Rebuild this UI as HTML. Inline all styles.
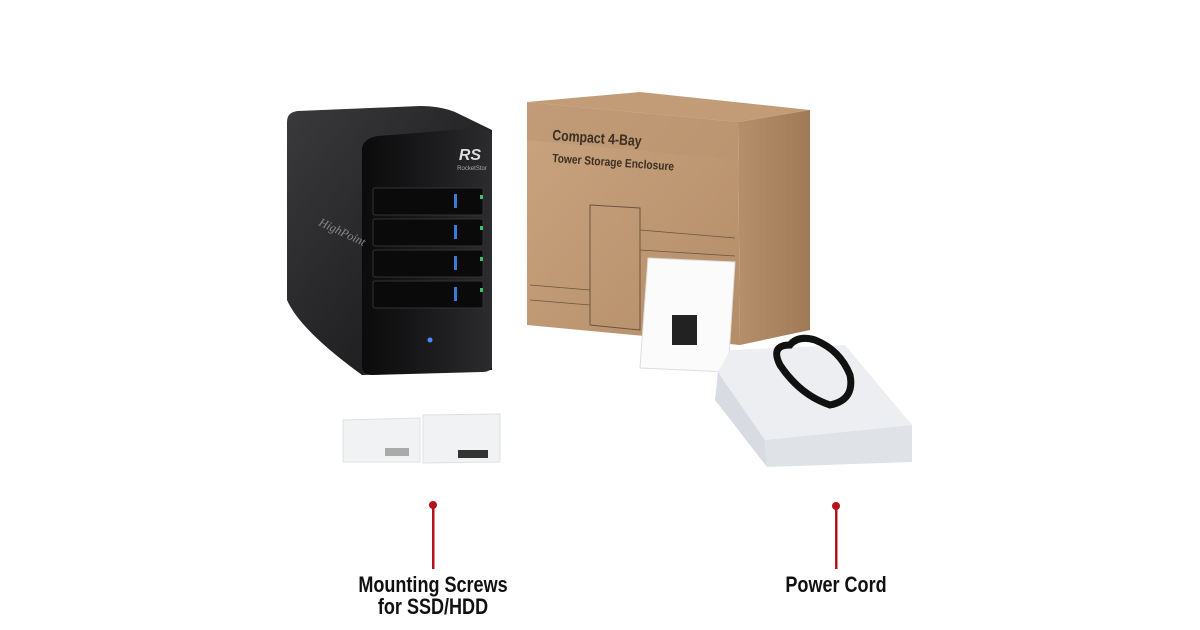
<!DOCTYPE html>
<html><head><meta charset="utf-8"><style>
html,body{margin:0;padding:0;background:#fff;width:1200px;height:630px;overflow:hidden}
svg{display:block}
</style></head><body>
<svg width="1200" height="630" viewBox="0 0 1200 630" xmlns="http://www.w3.org/2000/svg">
<defs>
<linearGradient id="side" x1="0" y1="0" x2="1" y2="1"><stop offset="0" stop-color="#3a3a3c"/><stop offset="0.5" stop-color="#262628"/><stop offset="1" stop-color="#151516"/></linearGradient>
<linearGradient id="front" x1="0" y1="0" x2="1" y2="0"><stop offset="0" stop-color="#0b0b0c"/><stop offset="0.6" stop-color="#1d1d1f"/><stop offset="1" stop-color="#2c2c2e"/></linearGradient>
<linearGradient id="cb" x1="0" y1="0" x2="1" y2="1"><stop offset="0" stop-color="#c9a47f"/><stop offset="1" stop-color="#b48d68"/></linearGradient>
<linearGradient id="cbs" x1="0" y1="0" x2="1" y2="0"><stop offset="0" stop-color="#b58f6b"/><stop offset="1" stop-color="#a07a56"/></linearGradient>
</defs>
<!-- enclosure -->
<path d="M287,122 Q287,112 298,111 L420,106 Q440,106 455,112 L492,130 L492,370 L362,375 Q300,330 287,300 Z" fill="url(#side)"/>
<path d="M362,148 Q364,138 378,136 L480,128 Q492,128 492,140 L492,365 Q492,372 482,372 L372,375 Q362,375 362,365 Z" fill="url(#front)"/>
<text x="470" y="160" font-family="Liberation Sans" font-weight="bold" font-style="italic" font-size="16" fill="#ddd" text-anchor="middle">RS</text>
<text x="472" y="170" font-family="Liberation Sans" font-size="6" fill="#aaa" text-anchor="middle">RocketStor</text>
<text x="318" y="225" font-family="Liberation Serif" font-style="italic" font-size="12" fill="#888" transform="rotate(25 318 225)">HighPoint</text>
<g fill="#0a0a0a" stroke="#333" stroke-width="1">
<rect x="373" y="188" width="110" height="27" rx="2"/>
<rect x="373" y="219" width="110" height="27" rx="2"/>
<rect x="373" y="250" width="110" height="27" rx="2"/>
<rect x="373" y="281" width="110" height="27" rx="2"/>
</g>
<g fill="#3a7bd5"><rect x="454" y="194" width="3" height="14"/><rect x="454" y="225" width="3" height="14"/><rect x="454" y="256" width="3" height="14"/><rect x="454" y="287" width="3" height="14"/></g>
<g fill="#3fbf6a"><rect x="480" y="195" width="3" height="4"/><rect x="480" y="226" width="3" height="4"/><rect x="480" y="257" width="3" height="4"/><rect x="480" y="288" width="3" height="4"/></g>
<circle cx="430" cy="340" r="2.5" fill="#4a8cff"/>
<!-- cardboard box -->
<path d="M527,102 L640,92 L810,110 L738,122 Z" fill="#c29c77"/>
<path d="M527,102 L738,122 L740,345 L527,325 Z" fill="url(#cb)"/>
<path d="M738,122 L810,110 L810,330 L740,345 Z" fill="url(#cbs)"/>
<path d="M527,102 L738,122 L738,160 L527,140 Z" fill="#b99470" opacity="0.5"/>
<text font-family="Liberation Sans" font-weight="bold" font-size="15" fill="#3b2e22" transform="translate(552 140) rotate(4) scale(0.82 1)">Compact 4-Bay</text>
<text font-family="Liberation Sans" font-weight="bold" font-size="12" fill="#3b2e22" transform="translate(552 162) rotate(4) scale(0.85 1)">Tower Storage Enclosure</text>
<path d="M590,205 L640,208 L640,330 L590,325 Z" fill="none" stroke="#6b5440" stroke-width="1"/>
<g stroke="#6b5440" fill="none" stroke-width="0.8"><path d="M530,285 L590,290"/><path d="M530,300 L590,305"/><path d="M640,230 L735,238"/><path d="M640,250 L735,256"/></g>
<!-- booklet -->
<path d="M648,258 L735,262 L728,372 L640,368 Z" fill="#fbfbfb" stroke="#ddd"/>
<rect x="672" y="315" width="25" height="30" fill="#222"/>
<!-- white box -->
<path d="M718,372 L765,440 L767,467 L715,400 Z" fill="#d8dce2"/>
<path d="M718,372 L730,350 L845,345 L912,425 L765,440 Z" fill="#eceef2"/>
<path d="M765,440 L912,425 L912,462 L767,467 Z" fill="#dfe2e7"/>
<path d="M790,345 Q770,345 780,365 Q800,395 830,405 Q855,400 850,375 Q840,350 815,340 Q798,335 790,345 Z" fill="none" stroke="#111" stroke-width="7"/>
<!-- screw bags -->
<path d="M343,420 L420,418 L420,462 L343,462 Z" fill="#f1f2f4" stroke="#e0e0e0"/>
<path d="M423,415 L500,414 L500,462 L423,463 Z" fill="#f1f2f4" stroke="#e0e0e0"/>
<rect x="385" y="448" width="24" height="8" fill="#aaa"/>
<rect x="458" y="450" width="30" height="8" fill="#333"/>
<!-- callouts -->
<circle cx="433" cy="505" r="4" fill="#b5121b"/><rect x="432" y="505" width="2.5" height="64" fill="#b5121b"/>
<circle cx="836" cy="506" r="4" fill="#b5121b"/><rect x="835" y="506" width="2.5" height="63" fill="#b5121b"/>
<g font-family="Liberation Sans" font-weight="bold" font-size="22" fill="#111" text-anchor="middle">
<text transform="translate(433 592) scale(0.82 1)">Mounting Screws</text>
<text transform="translate(433 614) scale(0.82 1)">for SSD/HDD</text>
<text transform="translate(836 592) scale(0.82 1)">Power Cord</text>
</g>
</svg>
</body></html>
